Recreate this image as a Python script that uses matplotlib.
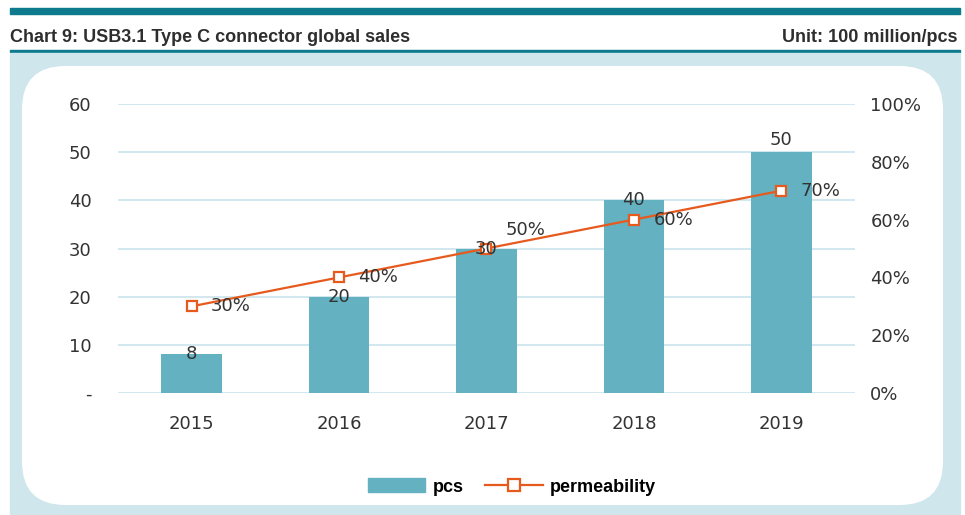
import matplotlib.pyplot as plt
from matplotlib.patches import Rectangle, FancyBboxPatch
from matplotlib.lines import Line2D

# dados
years = ["2015", "2016", "2017", "2018", "2019"]
pcs = [8, 20, 30, 40, 50]
permeability = [30, 40, 50, 60, 70]
left_ticks = [0, 10, 20, 30, 40, 50, 60]
left_labels = ["-", "10", "20", "30", "40", "50", "60"]
right_ticks = [0, 20, 40, 60, 80, 100]
right_labels = ["0%", "20%", "40%", "60%", "80%", "100%"]

W, H = 965, 515
BAR = "#63B1C1"
LINE = "#E65A1E"
GRID = "#D3E8EE"
TXT = "#333333"

fig = plt.figure(figsize=(W / 100, H / 100), dpi=100)

def fx(px):
    return px / W

def fy(py):
    return 1 - py / H

# moldura / cabecalho (atras dos eixos)
fig.patches.append(Rectangle((fx(10), fy(14)), fx(950), 6 / H, transform=fig.transFigure,
                             color="#0E7A8E", zorder=-10))
fig.patches.append(Rectangle((fx(10), fy(52)), fx(950), 2 / H, transform=fig.transFigure,
                             color="#0E7A8E", zorder=-10))
fig.patches.append(Rectangle((fx(10), 0), fx(950), fy(53), transform=fig.transFigure,
                             color="#CFE6EC", zorder=-10))
fig.patches.append(FancyBboxPatch((fx(22), fy(505)), fx(921), (505 - 66) / H,
                                  boxstyle="round,pad=0,rounding_size=0.045",
                                  transform=fig.transFigure, facecolor="white",
                                  edgecolor="none", zorder=-9,
                                  mutation_aspect=W / H))

fig.text(fx(10), fy(37), "Chart 9: USB3.1 Type C connector global sales",
         fontfamily="Liberation Sans", fontweight="bold", fontsize=13, color="#2E2E2E",
         va="center", ha="left")
fig.text(fx(958), fy(37), "Unit: 100 million/pcs",
         fontfamily="Liberation Sans", fontweight="bold", fontsize=13, color="#2E2E2E",
         va="center", ha="right")

ax = fig.add_axes([fx(118), fy(393), fx(855 - 118), (393 - 104) / H])
ax.patch.set_alpha(0)
x = list(range(len(years)))
ax.bar(x, pcs, width=0.41, color=BAR, zorder=2)
ax.set_xlim(-0.5, len(years) - 0.5)
ax.set_ylim(0, 60)
ax.set_yticks(left_ticks)
ax.set_yticklabels(left_labels)
ax.set_xticks(x)
ax.set_xticklabels(years)
ax.grid(axis="y", color=GRID, linewidth=1.5, zorder=0)
for s in ax.spines.values():
    s.set_visible(False)
ax.tick_params(axis="y", length=0, pad=19, labelsize=13, labelcolor=TXT)
ax.tick_params(axis="x", length=0, pad=16, labelsize=13, labelcolor=TXT)

ax2 = ax.twinx()
ax2.plot(x, permeability, color=LINE, linewidth=1.6, marker="s", markersize=7.5,
         markerfacecolor="white", markeredgecolor=LINE, markeredgewidth=1.6, zorder=4)
ax2.set_ylim(0, 100)
ax2.set_yticks(right_ticks)
ax2.set_yticklabels(right_labels)
for s in ax2.spines.values():
    s.set_visible(False)
ax2.tick_params(axis="y", length=0, pad=11, labelsize=13, labelcolor=TXT)

# rotulos das barras por cima da linha (como no original)
for xi, v in zip(x, pcs):
    dy = 9 if v == max(pcs) else 0
    ax2.annotate(str(v), (xi, v), xycoords=ax.transData, xytext=(0, dy),
                 textcoords="offset points", ha="center", va="center",
                 fontsize=13, color=TXT, zorder=6)

for xi, v in zip(x, permeability):
    dy = 13 if v == 50 else 0
    ax2.annotate(f"{v}%", (xi, v), xytext=(14, dy), textcoords="offset points",
                 ha="left", va="center", fontsize=13, color=TXT, zorder=5)

handles = [Rectangle((0, 0), 1, 1, color=BAR),
           Line2D([], [], color=LINE, linewidth=1.6, marker="s", markersize=8,
                  markerfacecolor="white", markeredgecolor=LINE, markeredgewidth=1.6)]
fig.legend(handles, ["pcs", "permeability"], loc="center", ncol=2,
           bbox_to_anchor=(fx(512), fy(487)), frameon=False, handlelength=3.2,
           handleheight=0.8, columnspacing=1.2, handletextpad=0.4,
           prop={"family": "Liberation Sans", "weight": "bold", "size": 13})

fig.savefig("out.png", dpi=100)
